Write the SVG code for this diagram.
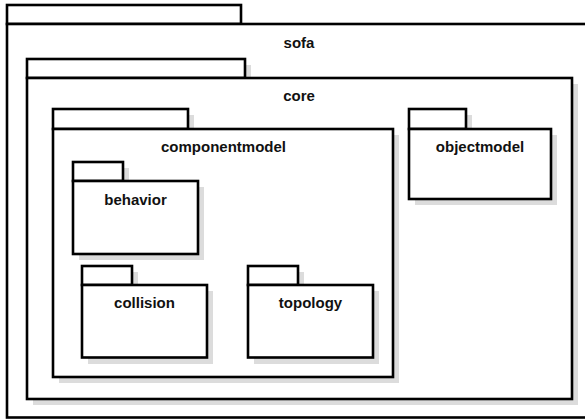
<svg xmlns="http://www.w3.org/2000/svg" width="585" height="419" viewBox="0 0 585 419">
<style>
.sh{fill:#dcdcdc;stroke:none}
.pk{fill:#fff;stroke:#000;stroke-width:2.6}
.lb{font-family:"Liberation Sans",Arial,sans-serif;font-weight:bold;font-size:15px;fill:#111;text-anchor:middle}
</style>
<rect width="585" height="419" fill="#fff"/>
<g id="sofa">
<rect class="pk" x="7" y="5" width="234" height="19"/>
<rect class="pk" x="7" y="24" width="584" height="393.5"/>
<text class="lb" x="299" y="47.5">sofa</text>
</g>
<g id="core">
<rect class="sh" x="33" y="65" width="218" height="19"/>
<rect class="sh" x="33" y="84" width="545" height="321"/>
<rect class="pk" x="27" y="59" width="218" height="19"/>
<rect class="pk" x="27" y="78" width="545" height="321"/>
<text class="lb" x="299" y="100.5">core</text>
</g>
<g id="componentmodel">
<rect class="sh" x="59" y="115" width="135" height="20"/>
<rect class="sh" x="59" y="135" width="340" height="248"/>
<rect class="pk" x="53" y="109" width="135" height="20"/>
<rect class="pk" x="53" y="129" width="340" height="248"/>
<text class="lb" x="223.5" y="152">componentmodel</text>
</g>
<g id="objectmodel">
<rect class="sh" x="415" y="115" width="57" height="20"/>
<rect class="sh" x="415" y="135" width="142" height="70"/>
<rect class="pk" x="409" y="109" width="57" height="20"/>
<rect class="pk" x="409" y="129" width="142" height="70"/>
<text class="lb" x="480" y="152">objectmodel</text>
</g>
<g id="behavior">
<rect class="sh" x="79" y="168" width="50" height="19"/>
<rect class="sh" x="79" y="187" width="125" height="73"/>
<rect class="pk" x="73" y="162" width="50" height="19"/>
<rect class="pk" x="73" y="181" width="125" height="73"/>
<text class="lb" x="135.5" y="205">behavior</text>
</g>
<g id="collision">
<rect class="sh" x="88" y="272" width="50" height="19"/>
<rect class="sh" x="88" y="291" width="125" height="73"/>
<rect class="pk" x="82" y="266" width="50" height="19"/>
<rect class="pk" x="82" y="285" width="125" height="72.5"/>
<text class="lb" x="144.5" y="308">collision</text>
</g>
<g id="topology">
<rect class="sh" x="254" y="272" width="50" height="19"/>
<rect class="sh" x="254" y="291" width="125" height="73"/>
<rect class="pk" x="248" y="266" width="50" height="19"/>
<rect class="pk" x="248" y="285" width="125" height="72.5"/>
<text class="lb" x="310.5" y="308">topology</text>
</g>
<g id="connectors"></g>
</svg>
